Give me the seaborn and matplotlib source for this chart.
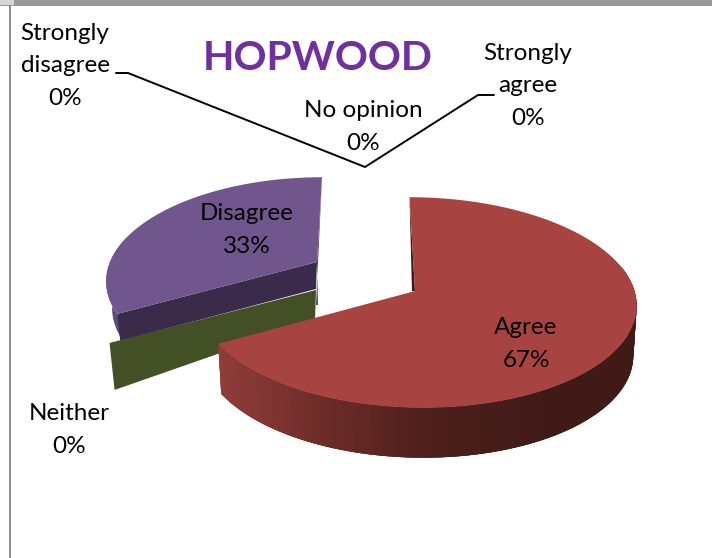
import matplotlib.pyplot as plt
import numpy as np
import seaborn as sns
from matplotlib.patches import Rectangle

title = "HOPWOOD"
categories = ["Strongly\nagree", "Agree", "Neither", "Disagree", "Strongly\ndisagree", "No opinion"]
percent = [0, 67, 0, 33, 0, 0]

# label centres in picture pixels
label_pos = {
    "Strongly\nagree": (528, 86),
    "Agree": (526, 344),
    "Neither": (69, 430),
    "Disagree": (247, 230),
    "Strongly\ndisagree": (65, 66),
    "No opinion": (363, 127),
}

# each exploded slice has its own apex, and its own perspective
slices = {
    "Agree": dict(apex=(415, 291), rx=218, ry=104, k=0.109, shear=-7, off=1.5, depth=50),
    "Neither": dict(apex=(316, 290), rx=214, ry=101, k=0.168, shear=5, off=0, depth=40),
    "Disagree": dict(apex=(317, 262), rx=207, ry=99, k=0.168, shear=5, off=0, depth=27),
}


def rim(theta, s):
    t = np.radians(theta)
    px, py = np.sin(t), np.cos(t)
    scale = 1 / (1 + s["k"] * py)
    x = s["apex"][0] + s["off"] + s["rx"] * px * scale + s["shear"] * py
    y = s["apex"][1] - s["ry"] * py * scale
    return x, y


sns.set_theme(style="white")
plt.rcParams["font.family"] = ["Lato", "DejaVu Sans"]

fig = plt.figure(figsize=(7.12, 5.58), dpi=100)
ax = fig.add_axes([0, 0, 1, 1])
ax.set_xlim(0, 712)
ax.set_ylim(558, 0)
ax.axis("off")

# window frame behind the chart
ax.add_patch(Rectangle((0, 0), 712, 6, color="#999999", lw=0))
ax.add_patch(Rectangle((0, 0), 14, 5, color="#d6d6d6", lw=0))
ax.add_patch(Rectangle((9, 5), 2, 553, color="#8f8f8f", lw=0))

cum = np.cumsum([0] + percent) * 3.6
angles = dict(zip(categories, zip(cum[:-1], cum[1:])))

# Disagree
s = slices["Disagree"]
a0, a1 = angles["Disagree"]
x, y = rim(a1, s)
ax.fill([x, s["apex"][0], s["apex"][0] + 1, s["apex"][0] - 1],
        [y, s["apex"][1], s["apex"][1] + 43, s["apex"][1] + 43], color="#4c3b66", lw=0)
tt = np.linspace(a0, 285, 30)
x, y = rim(tt, s)
ax.fill(np.r_[x, x[::-1] + 6], np.r_[y, y[::-1] + s["depth"]], color="#5f4a7c", lw=0)
x, y = rim(a0, s)
ax.fill([s["apex"][0], x, x + 3, s["apex"][0] - 1],
        [s["apex"][1], y, y + s["depth"], s["apex"][1] + s["depth"]], color="#3b2b4a", lw=0)
tt = np.linspace(a0, a1, 80)
x, y = rim(tt, s)
ax.fill(np.r_[s["apex"][0], x], np.r_[s["apex"][1], y], color="#70568c", lw=0)

# Neither has no area, only its cut face shows
s = slices["Neither"]
a0, a1 = angles["Neither"]
x, y = rim(a0, s)
ax.fill([s["apex"][0], x, x + 5, s["apex"][0] - 1],
        [s["apex"][1], y, y + 47, s["apex"][1] + 30], color="#434f24", lw=0)

# Agree
s = slices["Agree"]
a0, a1 = angles["Agree"]
x, y = rim(a0, s)
ax.fill([x, s["apex"][0], s["apex"][0] - 3], [y, s["apex"][1], s["apex"][1]], color="#3c1a18", lw=0)
tt = np.linspace(75, a1, 120)
x, y = rim(tt, s)
# the lower edge sits a little inside the top edge
low_x = s["apex"][0] + (x - s["apex"][0]) * 0.985
shade = sns.blend_palette(["#401a17", "#4a1e1b", "#6b2b28", "#8f3d39"], 120)
for i in range(len(tt) - 1):
    # colour follows the horizontal position, right side is darkest
    c = shade[int(np.clip((560 - x[i]) / 340 * 119, 0, 119))]
    j = min(i + 3, len(tt) - 1)
    ax.fill([x[i], x[j], low_x[j], low_x[i]],
            [y[i], y[j], y[j] + s["depth"], y[i] + s["depth"]], color=c, lw=0)
tt = np.linspace(a0, a1, 200)
x, y = rim(tt, s)
ax.fill(np.r_[s["apex"][0], x], np.r_[s["apex"][1], y], color="#a74441", lw=0)

# leader lines
ax.plot([116, 128, 365, 478, 494], [73, 73, 167, 95, 95], color="black", lw=1.4)

ax.text(318, 58, title, color="#7030a0", fontsize=29.5, fontweight="bold", ha="center", va="center")
for name, value in zip(categories, percent):
    px, py = label_pos[name]
    ax.text(px, py, f"{name}\n{value}%", color="black", fontsize=17.5, ha="center", va="center",
            linespacing=1.68)

fig.savefig("out.png", dpi=100)
plt.close()
